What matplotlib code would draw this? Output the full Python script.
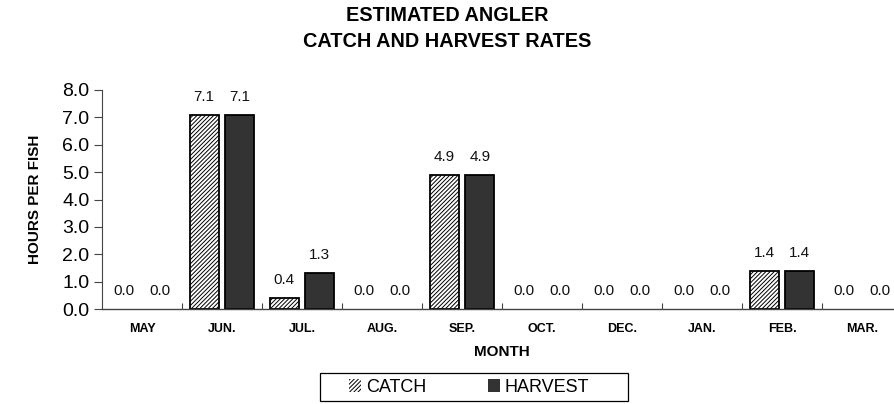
import matplotlib.pyplot as plt
from matplotlib.patches import Rectangle
import numpy as np

plt.rcParams["font.family"] = ["Liberation Sans", "DejaVu Sans"]
plt.rcParams["hatch.color"] = "#6e6e6e"
plt.rcParams["hatch.linewidth"] = 0.7

months = ["MAY", "JUN.", "JUL.", "AUG.", "SEP.", "OCT.", "DEC.", "JAN.", "FEB.", "MAR."]
catch = [0.0, 7.1, 0.4, 0.0, 4.9, 0.0, 0.0, 0.0, 1.4, 0.0]
harvest = [0.0, 7.1, 1.3, 0.0, 4.9, 0.0, 0.0, 0.0, 1.4, 0.0]

W, H = 894, 404
fig = plt.figure(figsize=(W / 100, H / 100), dpi=100)
ax = fig.add_axes([102 / W, 95 / H, 800 / W, 219 / H])

x = np.arange(len(months))
w = 0.36
off = 0.222
b1 = ax.bar(x - off, catch, w, color="white", edgecolor="black", linewidth=1.3,
            hatch="////////", label="CATCH")
b2 = ax.bar(x + off, harvest, w, color="#333333", edgecolor="black", linewidth=1.3,
            label="HARVEST")

for bars, vals in ((b1, catch), (b2, harvest)):
    for bar, v in zip(bars, vals):
        if v == 0:
            bar.set_linewidth(0)  # empty months show only the label
        ax.text(bar.get_x() + bar.get_width() / 2, v + 0.66, f"{v:.1f}",
                ha="center", va="center", fontsize=11, color="#111111")

ax.set_xlim(-0.5, len(months) - 0.5)
ax.set_ylim(0, 8)
ax.set_yticks(np.arange(0, 9, 1))
ax.set_yticklabels([f"{t:.1f}" for t in range(9)], fontsize=14)
ax.set_xticks(x)
ax.set_xticklabels(months, fontsize=9, fontweight="bold")
ax.tick_params(axis="x", length=0, pad=10)
ax.set_xticks(np.arange(0.5, len(months) - 0.5, 1), minor=True)
ax.tick_params(axis="x", which="minor", length=4, direction="in", width=0.8, color="#444444")
ax.tick_params(axis="y", length=6, width=0.8, pad=3, color="#444444")

for s in ("top", "right"):
    ax.spines[s].set_visible(False)
ax.spines["left"].set_linewidth(0.8)
ax.spines["left"].set_color("#444444")
ax.spines["bottom"].set_linewidth(1.0)
ax.spines["bottom"].set_color("#444444")

ax.set_xlabel("MONTH", fontsize=11, fontweight="bold", labelpad=7)
ax.set_ylabel("HOURS PER FISH", fontsize=11, fontweight="bold")
ax.yaxis.set_label_coords(-0.075, 0.5)

fig.text(0.5, 1 - 28.5 / H, "ESTIMATED ANGLER\nCATCH AND HARVEST RATES",
         ha="center", va="center", fontsize=14.3, fontweight="bold", linespacing=1.45)

# legend with its own wider box
leg = fig.legend(handles=[b1, b2], loc="center", bbox_to_anchor=(469 / W, 1 - 387 / H),
                 ncol=2, fontsize=13, frameon=False,
                 handlelength=0.7, handleheight=0.7, handletextpad=0.25, columnspacing=3.4,
                 borderpad=0, borderaxespad=0)
fig.add_artist(Rectangle((320 / W, 1 - 401 / H), 308 / W, 28 / H, transform=fig.transFigure,
                         facecolor="none", edgecolor="black", linewidth=0.9))

fig.savefig("out.png", dpi=100)
